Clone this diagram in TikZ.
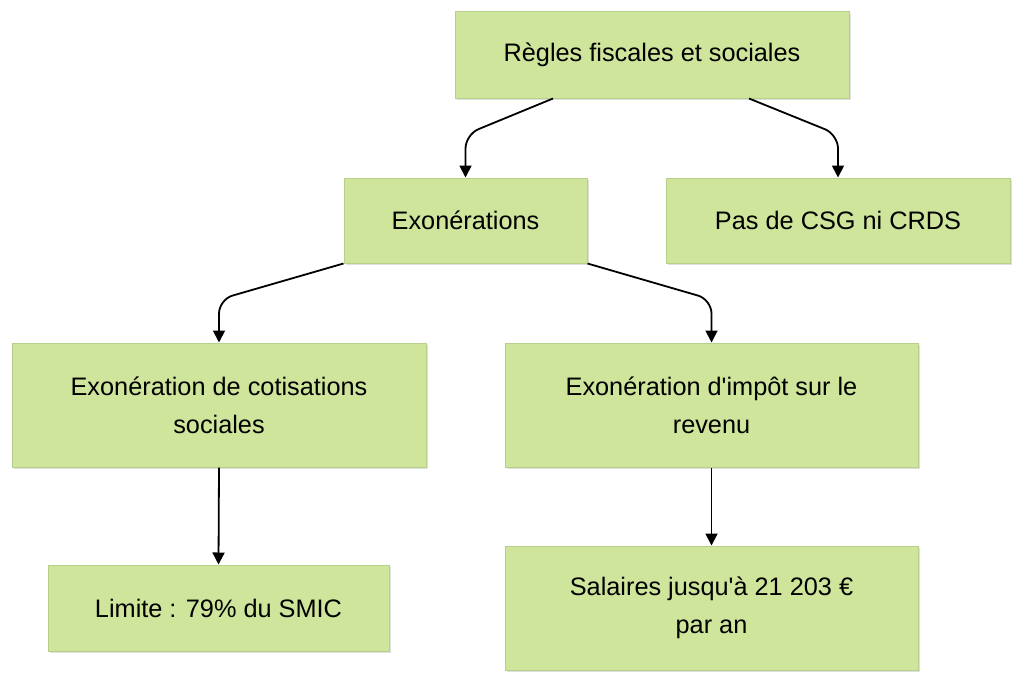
\documentclass[tikz,border=0pt]{standalone}
\usepackage{fontspec}
\setmainfont{Liberation Sans}[Ligatures=TeXOff]
\usetikzlibrary{arrows.meta,shadows}
\definecolor{boxfill}{HTML}{CFE59B}
\definecolor{boxline}{HTML}{B8CF8C}
\begin{document}
\begin{tikzpicture}[x=1pt,y=-1pt,
  box/.style={draw=boxline, line width=1pt, fill=boxfill, inner sep=0pt, align=center,
    font=\fontsize{25.3}{38}\selectfont,
    drop shadow={shadow xshift=1.5pt, shadow yshift=-2pt, fill=black, opacity=0.12}},
  arr/.style={line width=1.8pt, -{Triangle[width=12pt,length=12pt]}, rounded corners=14pt}]
\useasboundingbox (0,0) rectangle (1024,685);
\fill[white] (0,0) rectangle (1024,685);
\node[box, minimum width=394pt, minimum height=86pt] (top) at (652,55) {Règles fiscales et sociales};
\node[box, minimum width=243pt, minimum height=85pt] (exo) at (465.5,220.5) {Exonérations};
\node[box, minimum width=344pt, minimum height=85pt] (pas) at (838,220.5) {Pas de CSG ni CRDS};
\node[box, minimum width=414pt, minimum height=124pt] (cot) at (219,405) {Exonération de cotisations\\sociales};
\node[box, minimum width=413pt, minimum height=124pt] (imp) at (711.5,405) {Exonération d'impôt sur le\\revenu};
\node[box, minimum width=341pt, minimum height=86pt] (lim) at (218.5,608) {Limite : 79\% du SMIC};
\node[box, minimum width=413pt, minimum height=124pt] (sal) at (711.5,608) {Salaires jusqu'à 21 203 €\\par an};
\draw[arr] ([xshift=-99pt]top.south) -- ([yshift=43pt]exo.north) -- (exo.north);
\draw[arr] ([xshift=97pt]top.south) -- ([yshift=43pt]pas.north) -- (pas.north);
\draw[arr] (exo.south west) -- ([yshift=43pt]cot.north) -- (cot.north);
\draw[arr] (exo.south east) -- ([yshift=43pt]imp.north) -- (imp.north);
\draw[arr] (cot.south) -- (lim.north);
\draw[arr] (imp.south) -- (sal.north);
\end{tikzpicture}
\end{document}
